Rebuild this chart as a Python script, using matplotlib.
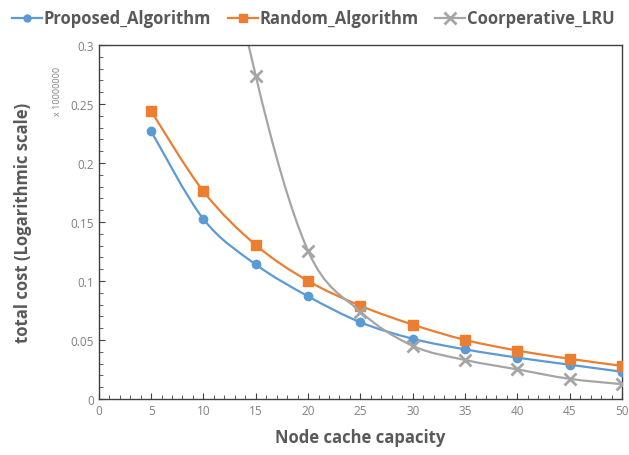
import numpy as np
import matplotlib
matplotlib.use('Agg')
import matplotlib.pyplot as plt
from matplotlib.path import Path
from matplotlib.patches import PathPatch
from matplotlib.lines import Line2D

plt.rcParams['font.family'] = ['Open Sans', 'DejaVu Sans']

# data (in units of 10,000,000)
capacity = [5, 10, 15, 20, 25, 30, 35, 40, 45, 50]
proposed = [0.227, 0.1525, 0.114, 0.087, 0.065, 0.051, 0.042, 0.035, 0.029, 0.023]
random_alg = [0.244, 0.176, 0.1305, 0.100, 0.079, 0.063, 0.050, 0.041, 0.034, 0.028]
lru = [0.85, 0.5, 0.274, 0.1255, 0.074, 0.045, 0.033, 0.025, 0.017, 0.0125]

blue = '#5B9BD5'
orange = '#ED7D31'
grey = '#A5A5A5'
text_col = '#595959'


def smooth_path(xs, ys):
    # Excel-like smoothed line: Catmull-Rom as cubic Bezier segments
    pts = np.column_stack([xs, ys])
    n = len(pts)
    verts = [pts[0]]
    codes = [Path.MOVETO]
    for i in range(n - 1):
        p0 = pts[i - 1] if i > 0 else pts[i]
        p1 = pts[i]
        p2 = pts[i + 1]
        p3 = pts[i + 2] if i + 2 < n else pts[i + 1]
        c1 = p1 + (p2 - p0) / 6
        c2 = p2 - (p3 - p1) / 6
        verts += [c1, c2, p2]
        codes += [Path.CURVE4] * 3
    return Path(verts, codes)


fig = plt.figure(figsize=(6.29, 4.56), dpi=100)
ax = fig.add_axes([0.157, 0.123, 0.832, 0.776])

series = [
    (proposed, blue, 'o', 6, 'Proposed_Algorithm'),
    (random_alg, orange, 's', 6.5, 'Random_Algorithm'),
    (lru, grey, 'x', 9, 'Coorperative_LRU'),
]
handles = []
for vals, col, mk, ms, name in series:
    patch = PathPatch(smooth_path(capacity, vals), facecolor='none',
                      edgecolor=col, lw=1.6, zorder=2)
    ax.add_patch(patch)
    ax.plot(capacity, vals, ls='none', marker=mk, ms=ms, color=col,
            mec=col, mew=2 if mk == 'x' else 1, zorder=3, clip_on=True)
    handles.append(Line2D([], [], color=col, lw=1.6, marker=mk, ms=ms - 1,
                          mew=2 if mk == 'x' else 1, label=name))

ax.set_xlim(0, 50)
ax.set_ylim(0, 0.3)
ax.set_xticks(np.arange(0, 51, 5))
ax.set_xticks(np.arange(0, 51, 1), minor=True)
ax.set_yticks(np.arange(0, 0.301, 0.05))
ax.set_yticklabels(['0', '0.05', '0.1', '0.15', '0.2', '0.25', '0.3'])
ax.set_yticks(np.arange(0, 0.301, 0.01), minor=True)
ax.tick_params(which='major', length=4, direction='in', colors='#404040',
               labelcolor='#808080', labelsize=8.5)
ax.tick_params(which='minor', length=3, direction='in', colors='#404040')
for s in ax.spines.values():
    s.set_color('#404040')
    s.set_linewidth(1)

ax.set_xlabel('Node cache capacity', fontsize=12, fontweight='bold',
              color=text_col, labelpad=8)
ax.set_ylabel('total cost (Logarithmic scale)', fontsize=12, fontweight='bold',
              color=text_col, labelpad=28)
fig.text(0.092, 0.80, 'x 10000000', rotation=90, fontsize=6.5,
         color='#808080', ha='center', va='center')

fig.legend(handles=handles, loc='upper left', bbox_to_anchor=(-0.005, 1.01),
           ncol=3, frameon=False, handlelength=1.8, handletextpad=0.1,
           columnspacing=1.0, prop={'size': 12, 'weight': 'bold'},
           labelcolor=text_col)

fig.savefig('out.png', dpi=100)
